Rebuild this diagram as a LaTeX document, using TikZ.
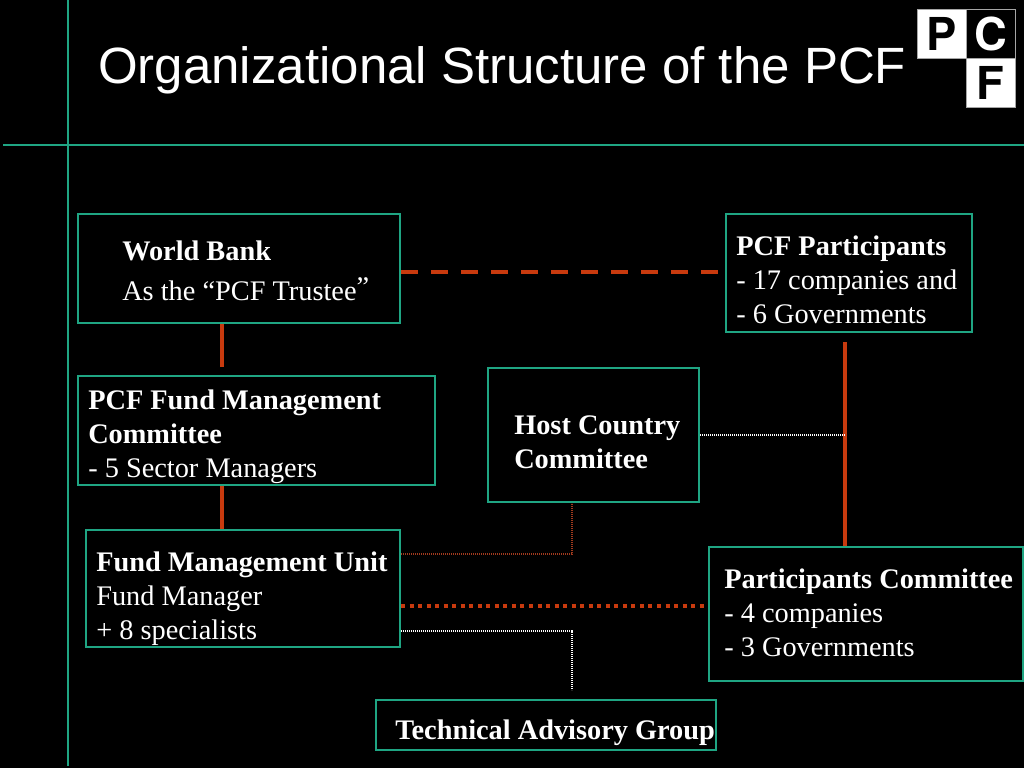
\documentclass[tikz,border=0pt]{standalone}
\usepackage{fontspec}
\setmainfont{Liberation Serif}
\newfontfamily\titlefont{Liberation Sans}
\newfontfamily\logofont{TeX Gyre Heros}
\definecolor{teal1}{HTML}{1FA583}
\definecolor{red1}{HTML}{C83A0E}
\definecolor{redthin}{HTML}{A03A1E}
\tikzset{
  framebox/.style={draw=teal1,line width=1.2pt,inner sep=0pt,anchor=north west},
  rule/.style={draw=teal1,line width=1.1pt},
  bodytext/.style={text=white,inner sep=0pt,anchor=base west,font=\fontsize{21.25}{25.5}\selectfont,align=left},
  solidlink/.style={draw=red1,line width=3.2pt},
  dashlink/.style={draw=red1,line width=3pt,dash pattern=on 12.75pt off 9.75pt},
  dotlink/.style={draw=red1,line width=3pt,dash pattern=on 3pt off 3.4pt},
  thinred/.style={draw=redthin,line width=.8pt,dash pattern=on .9pt off .6pt},
  thinwhite/.style={draw=white,line width=.8pt,dash pattern=on .9pt off .6pt},
  logocell/.style={minimum size=36.5pt,inner sep=0pt,anchor=north west,draw=gray!70,line width=.6pt},
  logotext/.style={inner sep=0pt,font=\logofont\bfseries\fontsize{34}{34}\selectfont},
}
\newcommand{\boxat}[5]{\node[framebox,minimum width=#4*0.75pt-1.2pt,minimum height=#5*0.75pt-1.2pt] (#1) at (#2,#3) {};}
\begin{document}
\begin{tikzpicture}[x=0.75pt,y=-0.75pt]
\useasboundingbox[fill=black] (0,0) rectangle (1024,768);
\coordinate (vtop) at (68,0);
\coordinate (vbot) at (68,766);
\coordinate (hl) at (3,145);
\coordinate (hr) at (1024,145);
\draw[rule] (vtop) -- (vbot);
\draw[rule] (hl) -- (hr);
\node[text=white,inner sep=0pt,anchor=base west,font=\titlefont\fontsize{38.25}{44}\selectfont] (title) at (98,83) {Organizational Structure of the PCF};
\node[logocell,fill=white] (logoP) at (917,9) {};
\node[logocell,fill=black] (logoC) at (966,9) {};
\node[logocell,fill=white] (logoF) at (966,58) {};
\node[logotext,text=black] (lP) at (logoP.center) {P};
\node[logotext,text=white] (lC) at (logoC.center) {C};
\node[logotext,text=black] (lF) at (logoF.center) {F};
\boxat{WB}{77}{213}{324}{111}
\boxat{PP}{725}{213}{248}{120}
\boxat{FMC}{77}{375}{359}{111}
\boxat{HC}{487}{367}{213}{136}
\boxat{FMU}{85}{529}{316}{119}
\boxat{PC}{708}{546}{316}{136}
\boxat{TAG}{375}{699}{342}{52}
\node[bodytext] (tWB) at (122,260) {\textbf{World Bank}};
\node[bodytext] (tWB2) at (122,300) {As the “PCF Trustee\raisebox{3pt}{”}};
\node[bodytext,anchor=north west] (tPP) at (736,236) {\textbf{PCF Participants}\\- 17 companies and\\- 6 Governments};
\node[bodytext,anchor=north west] (tFMC) at (88,390) {\textbf{PCF Fund Management}\\\textbf{Committee}\\- 5 Sector Managers};
\node[bodytext,anchor=north west] (tHC) at (514,415) {\textbf{Host Country}\\\textbf{Committee}};
\node[bodytext,anchor=north west] (tFMU) at (96,552) {\textbf{Fund Management Unit}\\Fund Manager\\+ 8 specialists};
\node[bodytext,anchor=north west] (tPC) at (724,569) {\textbf{Participants Committee}\\- 4 companies\\- 3 Governments};
\node[bodytext] (tTAG) at (395,739) {\textbf{Technical Advisory Group}};
\coordinate (wbf) at (222,367);
\coordinate (ppc) at (845,342);
\coordinate (pce) at (705,606);
\coordinate (hcj) at (572,554);
\coordinate (tgj) at (572,631);
\coordinate (tge) at (572,690);
\coordinate (hch) at (845,435);
\coordinate (dse) at (718,272);
\draw[dashlink] (WB.east |- dse) -- (dse);
\draw[solidlink] (wbf |- WB.south) -- (wbf);
\draw[solidlink] (wbf |- FMC.south) -- (wbf |- FMU.north);
\draw[solidlink] (ppc) -- (ppc |- PC.north);
\draw[thinwhite] (HC.east |- hch) -- (hch);
\draw[thinred] (FMU.east |- hcj) -- (hcj) -- (hcj |- HC.south);
\draw[dotlink] (FMU.east |- pce) -- (pce);
\draw[thinwhite] (FMU.east |- tgj) -- (tgj) -- (tge);
\end{tikzpicture}
\end{document}
